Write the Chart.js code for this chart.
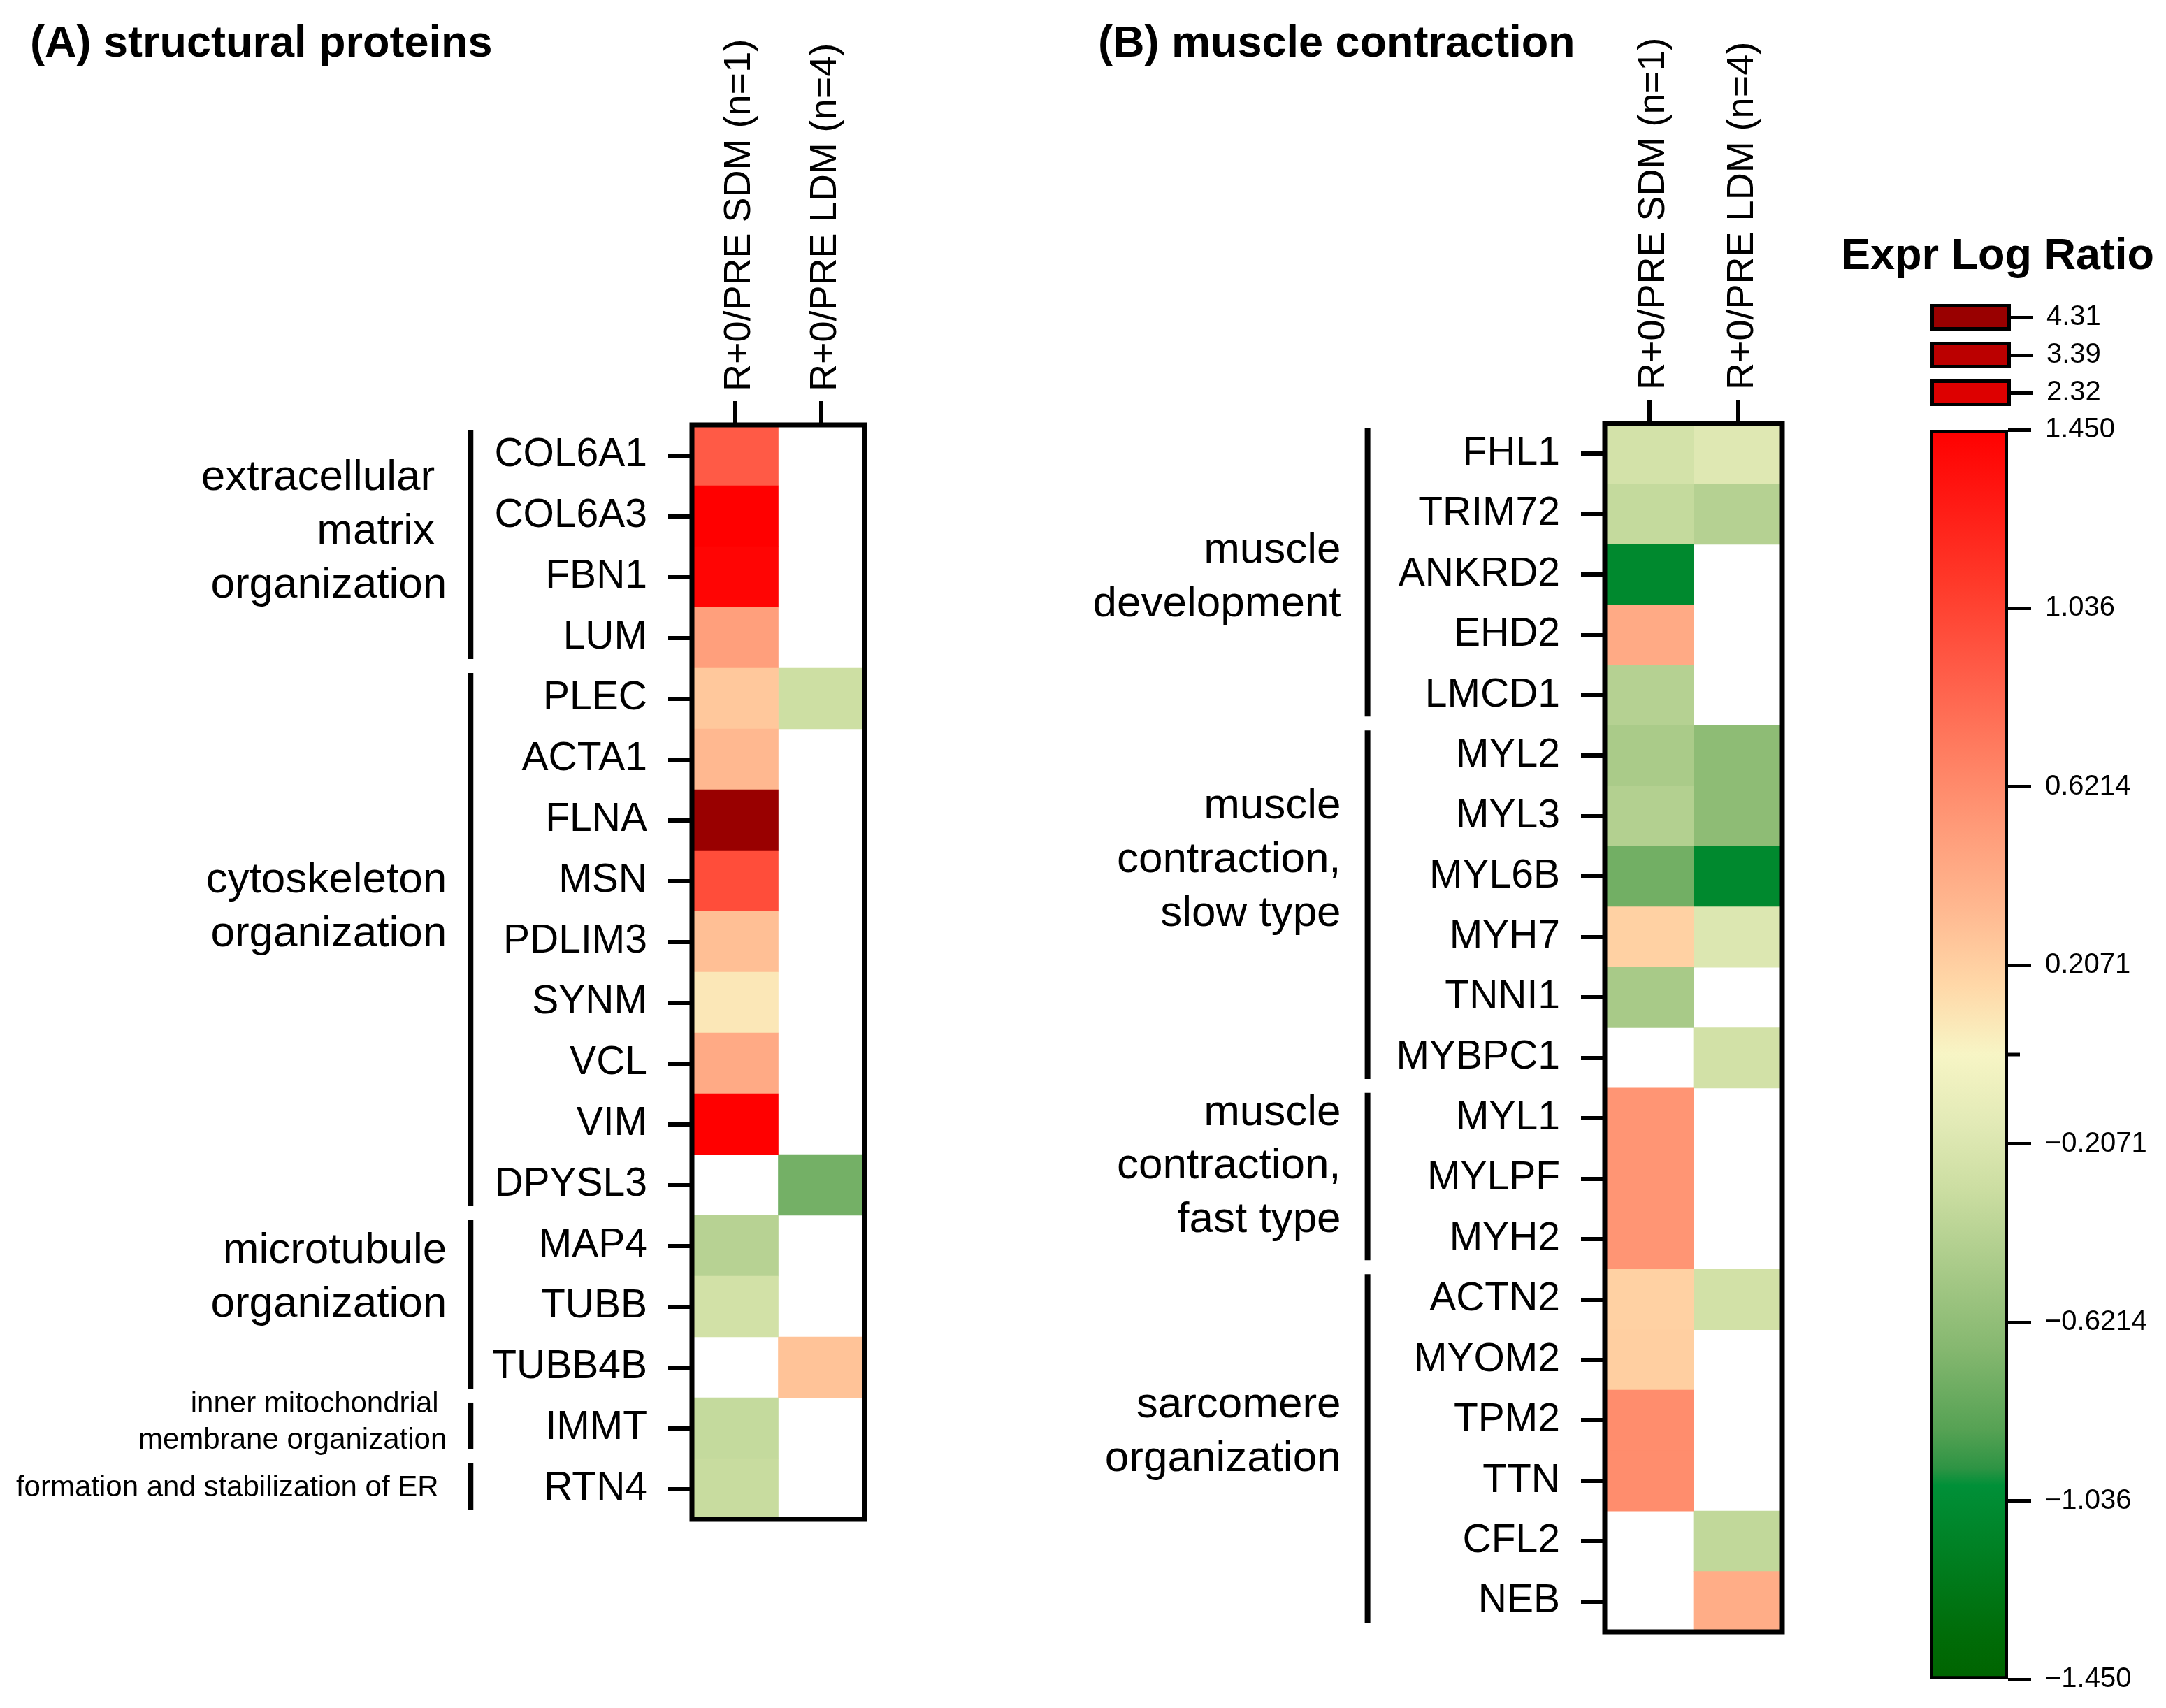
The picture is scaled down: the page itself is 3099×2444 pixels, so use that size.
<!DOCTYPE html>
<html>
<head>
<meta charset="utf-8">
<title>Expr Log Ratio heatmaps</title>
<script src="https://cdn.jsdelivr.net/npm/chart.js@4.4.1/dist/chart.umd.min.js"></script>
<style>
  html, body { margin: 0; padding: 0; background: #fff; }
  body { width: 3099px; height: 2444px; position: relative; overflow: hidden; }
  canvas { position: absolute; }
</style>
</head>
<body>
<canvas id="panelA" width="1300" height="2444" style="left:0;top:0"></canvas>
<canvas id="panelB" width="1300" height="2444" style="left:1300px;top:0"></canvas>
<canvas id="scaleBar" width="499" height="2500" style="left:2600px;top:0"></canvas>
<canvas id="scaleSteps" width="499" height="300" style="left:2600px;top:350px"></canvas>
<script>
// --- data ---
const columns = ['R+0/PRE SDM (n=1)', 'R+0/PRE LDM (n=4)'];

const genesA = ['COL6A1', 'COL6A3', 'FBN1', 'LUM', 'PLEC', 'ACTA1', 'FLNA', 'MSN', 'PDLIM3',
  'SYNM', 'VCL', 'VIM', 'DPYSL3', 'MAP4', 'TUBB', 'TUBB4B', 'IMMT', 'RTN4'];
const sdmA = [0.90, 1.45, 1.42, 0.50, 0.25, 0.34, 4.31, 0.98, 0.30,
  0.08, 0.43, 1.45, null, -0.42, -0.27, null, -0.35, -0.33];
const ldmA = [null, null, null, null, -0.30, null, null, null, null,
  null, null, null, -0.75, null, null, 0.28, null, null];
const groupsA = [
  { lines: ['extracellular ', 'matrix ', 'organization'], from: 0, to: 3 },
  { lines: ['cytoskeleton', 'organization'], from: 4, to: 12 },
  { lines: ['microtubule', 'organization'], from: 13, to: 15 },
  { lines: ['inner mitochondrial ', 'membrane organization'], from: 16, to: 16 },
  { lines: ['formation and stabilization of ER '], from: 17, to: 17 }
];

const genesB = ['FHL1', 'TRIM72', 'ANKRD2', 'EHD2', 'LMCD1', 'MYL2', 'MYL3', 'MYL6B', 'MYH7', 'TNNI1',
  'MYBPC1', 'MYL1', 'MYLPF', 'MYH2', 'ACTN2', 'MYOM2', 'TPM2', 'TTN', 'CFL2', 'NEB'];
const sdmB = [-0.26, -0.35, -1.07, 0.43, -0.43, -0.49, -0.44, -0.76, 0.20, -0.50,
  null, 0.56, 0.56, 0.56, 0.20, 0.21, 0.61, 0.61, null, null];
const ldmB = [-0.18, -0.43, null, null, null, -0.64, -0.64, -1.07, -0.20, null,
  -0.27, null, null, null, -0.27, null, null, null, -0.37, 0.41];
const groupsB = [
  { lines: ['muscle', 'development'], from: 0, to: 4 },
  { lines: ['muscle', 'contraction,', 'slow type'], from: 5, to: 10 },
  { lines: ['muscle', 'contraction,', 'fast type'], from: 11, to: 13 },
  { lines: ['sarcomere', 'organization'], from: 14, to: 19 }
];

const scaleMin = -1.45;
const scaleMax = 1.45;
const scaleTicks = [1.45, 1.036, 0.6214, 0.2071, 0, -0.2071, -0.6214, -1.036, -1.45];
const scaleTickLabels = ['1.450', '1.036', '0.6214', '0.2071', '', '\u22120.2071', '\u22120.6214', '\u22121.036', '\u22121.450'];
const stepValues = [4.31, 3.39, 2.32];
const stepLabels = ['4.31', '3.39', '2.32'];

// --- colours ---
const colorStops = [
  [-1.45, [0, 100, 0]], [-1.35, [0, 108, 8]], [-1.0, [0, 144, 56]], [-0.96, [46, 148, 68]],
  [-0.87, [86, 162, 84]], [-0.68, [134, 184, 112]], [-0.5, [168, 202, 136]], [-0.31, [204, 222, 162]],
  [-0.16, [226, 234, 182]], [0, [247, 245, 197]], [0.16, [255, 216, 168]], [0.34, [255, 184, 144]],
  [0.53, [255, 154, 120]], [0.72, [255, 122, 94]], [0.9, [255, 90, 70]], [1.09, [255, 58, 42]],
  [1.28, [255, 26, 20]], [1.45, [255, 0, 0]]
];
const stepColors = ['#990000', '#bb0000', '#dd0000'];

function rgb(c) { return 'rgb(' + c.map(Math.round).join(',') + ')'; }

function colorFor(v) {
  for (let i = 0; i < stepValues.length; i++) {
    if (v >= stepValues[i]) return stepColors[i];
  }
  if (v <= colorStops[0][0]) return rgb(colorStops[0][1]);
  for (let i = 1; i < colorStops.length; i++) {
    const [v1, c1] = colorStops[i];
    if (v <= v1) {
      const [v0, c0] = colorStops[i - 1];
      const t = (v - v0) / (v1 - v0);
      return rgb(c0.map((x, k) => x + (c1[k] - x) * t));
    }
  }
  return rgb(colorStops[colorStops.length - 1][1]);
}

// --- layout ---
const FONT = '"Liberation Sans", Arial, sans-serif';
Chart.defaults.font.family = FONT;
Chart.defaults.color = '#000';

const panelA = { left: 990, top: 608, right: 63, bottom: 270, title: '(A) structural proteins', titleX: 43,
  bracketGap: 31, labelGap: 34,
  labelShift: [-0.24, -0.56, -0.47, -0.09, -0.01], labelSize: [62, 62, 62, 42, 42] };
const panelB = { left: 996, top: 606, right: 50, bottom: 109, title: '(B) muscle contraction', titleX: 271,
  bracketGap: 41, labelGap: 38,
  labelShift: [0.05, -0.77, -0.2, -0.3], labelSize: [62, 62, 62, 62] };

const framePlugin = {
  id: 'frame',
  afterDatasetsDraw(chart) {
    const { ctx, chartArea: a } = chart;
    ctx.save();
    ctx.lineWidth = 7;
    ctx.strokeStyle = '#000';
    ctx.strokeRect(a.left, a.top, a.right - a.left, a.bottom - a.top);
    ctx.restore();
  }
};

const groupPlugin = {
  id: 'groups',
  afterDraw(chart, args, opts) {
    const { ctx, chartArea: a } = chart;
    const y = chart.scales.y;
    const band = y.getPixelForValue(1) - y.getPixelForValue(0);
    ctx.save();
    ctx.fillStyle = '#000';
    ctx.font = 'bold 63px ' + FONT;
    ctx.textAlign = 'left';
    ctx.textBaseline = 'alphabetic';
    ctx.fillText(opts.title, opts.titleX, 81);

    ctx.font = '57px ' + FONT;
    const widest = Math.max(...y.getLabels().map(l => ctx.measureText(l).width));
    const bracketX = a.left - 34 - 30 - widest - opts.bracketGap;
    ctx.strokeStyle = '#000';
    ctx.lineWidth = 8;
    opts.groups.forEach((g, i) => {
      const y0 = y.getPixelForValue(g.from) - band / 2 + band * 0.08;
      const y1 = y.getPixelForValue(g.to) + band / 2 - band * 0.15;
      ctx.beginPath();
      ctx.moveTo(bracketX, y0);
      ctx.lineTo(bracketX, y1);
      ctx.stroke();

      const size = opts.labelSize[i];
      const lh = size * 1.24;
      const mid = y.getPixelForValue((g.from + g.to) / 2) + opts.labelShift[i] * band;
      ctx.font = size + 'px ' + FONT;
      ctx.textAlign = 'right';
      ctx.textBaseline = 'middle';
      g.lines.forEach((line, k) => {
        ctx.fillText(line, bracketX - opts.labelGap, mid + (k - (g.lines.length - 1) / 2) * lh);
      });
    });
    ctx.restore();
  }
};

function heatmap(id, genes, sdm, ldm, groups, p) {
  const series = [sdm, ldm];
  return new Chart(document.getElementById(id), {
    type: 'bar',
    data: {
      labels: genes,
      datasets: series.map((vals, c) => ({
        label: columns[c],
        data: vals.map(v => (v === null ? null : [c, c + 1])),
        backgroundColor: vals.map(v => (v === null ? 'rgba(0,0,0,0)' : colorFor(v))),
        borderWidth: 0,
        grouped: false,
        barPercentage: 1,
        categoryPercentage: 1
      }))
    },
    options: {
      indexAxis: 'y',
      responsive: false,
      animation: false,
      events: [],
      layout: { padding: { left: 0, top: 0, right: p.right, bottom: p.bottom } },
      plugins: {
        legend: { display: false },
        tooltip: { enabled: false },
        groups: {
          groups: groups, title: p.title, titleX: p.titleX, bracketGap: p.bracketGap,
          labelGap: p.labelGap, labelShift: p.labelShift, labelSize: p.labelSize
        }
      },
      scales: {
        x: { type: 'linear', display: false, min: 0, max: series.length },
        x2: {
          type: 'category',
          position: 'top',
          labels: columns,
          offset: true,
          grid: { offset: false, drawOnChartArea: false, tickLength: 34, lineWidth: 6, color: '#000' },
          border: { display: false },
          ticks: {
            autoSkip: false, minRotation: 90, maxRotation: 90, padding: 14, labelOffset: 71,
            color: '#000', font: { size: 54 }
          },
          afterFit: s => { s.height = p.top; }
        },
        y: {
          type: 'category',
          grid: { offset: false, drawOnChartArea: false, tickLength: 34, lineWidth: 6, color: '#000' },
          border: { display: false },
          ticks: { autoSkip: false, padding: 30, color: '#000', font: { size: 57 } },
          afterFit: s => { s.width = p.left; }
        }
      }
    },
    plugins: [framePlugin, groupPlugin]
  });
}

heatmap('panelA', genesA, sdmA, ldmA, groupsA, panelA);
heatmap('panelB', genesB, sdmB, ldmB, groupsB, panelB);

// --- colour scale ---
function gradientFill(context) {
  const chart = context.chart;
  if (!chart.chartArea) return 'rgba(0,0,0,0)';
  const y = chart.scales.y;
  const g = chart.ctx.createLinearGradient(0, y.getPixelForValue(scaleMin), 0, y.getPixelForValue(scaleMax));
  colorStops.forEach(([v, c]) => g.addColorStop((v - scaleMin) / (scaleMax - scaleMin), rgb(c)));
  return g;
}

const scaleExtras = {
  id: 'scaleExtras',
  afterDraw(chart) {
    const { ctx, chartArea: a } = chart;
    const y0 = chart.scales.y.getPixelForValue(0);
    ctx.save();
    ctx.strokeStyle = '#000';
    ctx.lineWidth = 5;
    ctx.beginPath();
    ctx.moveTo(a.right, y0);
    ctx.lineTo(a.right + 17, y0);
    ctx.stroke();
    ctx.fillStyle = '#000';
    ctx.font = 'bold 63px ' + FONT;
    ctx.textAlign = 'left';
    ctx.fillText('Expr Log Ratio', 34, 385);
    ctx.restore();
  }
};

new Chart(document.getElementById('scaleBar'), {
  type: 'bar',
  data: {
    labels: [''],
    datasets: [{
      data: [[scaleMin, scaleMax]],
      backgroundColor: gradientFill,
      borderColor: '#000',
      borderWidth: 5,
      borderSkipped: false,
      barPercentage: 1,
      categoryPercentage: 1
    }]
  },
  options: {
    responsive: false,
    animation: false,
    events: [],
    layout: { padding: { left: 161, top: 615, right: 0, bottom: 97 } },
    plugins: { legend: { display: false }, tooltip: { enabled: false } },
    scales: {
      x: { display: false },
      y: {
        position: 'right',
        min: scaleMin,
        max: scaleMax,
        afterBuildTicks: axis => { axis.ticks = scaleTicks.map(v => ({ value: v })); },
        grid: {
          drawOnChartArea: false, tickLength: 33, lineWidth: 5,
          tickColor: ctx => (ctx.tick && ctx.tick.value === 0 ? 'rgba(0,0,0,0)' : '#000')
        },
        border: { display: false },
        ticks: {
          padding: 20, color: '#000', font: { size: 40 },
          callback: v => scaleTickLabels[scaleTicks.indexOf(v)]
        },
        afterFit: s => { s.width = 226; }
      }
    }
  },
  plugins: [scaleExtras]
});

new Chart(document.getElementById('scaleSteps'), {
  type: 'bar',
  data: {
    labels: stepLabels,
    datasets: [{
      data: stepValues.map(() => [0, 1]),
      backgroundColor: stepValues.map(colorFor),
      borderColor: '#000',
      borderWidth: 5,
      borderSkipped: false,
      barPercentage: 0.7,
      categoryPercentage: 1
    }]
  },
  options: {
    indexAxis: 'y',
    responsive: false,
    animation: false,
    events: [],
    layout: { padding: { left: 162, top: 77, right: 0, bottom: 61 } },
    plugins: { legend: { display: false }, tooltip: { enabled: false } },
    scales: {
      x: { type: 'linear', display: false, min: 0, max: 1 },
      y: {
        position: 'right',
        grid: { offset: false, drawOnChartArea: false, tickLength: 31, lineWidth: 5, color: '#000' },
        border: { display: false },
        ticks: { padding: 20, color: '#000', font: { size: 40 } },
        afterFit: s => { s.width = 222; }
      }
    }
  }
});
</script>
</body>
</html>
